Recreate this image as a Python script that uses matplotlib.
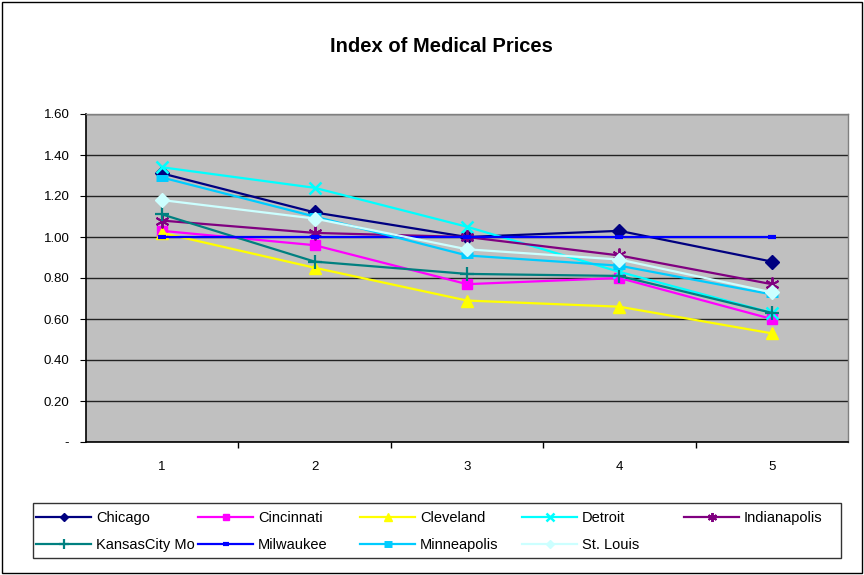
import matplotlib
matplotlib.use("Agg")
import matplotlib.pyplot as plt
from matplotlib.patches import Rectangle

plt.rcParams['font.family'] = ['Liberation Sans', 'DejaVu Sans']

periods = [1, 2, 3, 4, 5]
chicago = [1.31, 1.12, 1.00, 1.03, 0.88]
cincinnati = [1.03, 0.96, 0.77, 0.80, 0.60]
cleveland = [1.02, 0.85, 0.69, 0.66, 0.53]
detroit = [1.34, 1.24, 1.05, 0.83, 0.63]
indianapolis = [1.08, 1.02, 1.00, 0.91, 0.77]
kansas_city = [1.11, 0.88, 0.82, 0.81, 0.63]
milwaukee = [1.00, 1.00, 1.00, 1.00, 1.00]
minneapolis = [1.29, 1.10, 0.91, 0.86, 0.72]
st_louis = [1.18, 1.09, 0.94, 0.89, 0.73]

names = ["Chicago", "Cincinnati", "Cleveland", "Detroit", "Indianapolis",
         "KansasCity Mo", "Milwaukee", "Minneapolis", "St. Louis"]
series = [chicago, cincinnati, cleveland, detroit, indianapolis,
          kansas_city, milwaukee, minneapolis, st_louis]
colors = ["#000080", "#FF00FF", "#FFFF00", "#00FFFF", "#800080",
          "#008080", "#0000FF", "#00CCFF", "#CCFFFF"]
markers = ["D", "s", "^", "x", (6, 2, 0), "+", "_", "_", "D"]
msizes = [7, 7, 8, 9, 10, 10, 6, 9, 7]
mews = [1, 1, 1, 1.8, 1.4, 1.6, 3, 5, 1]

fig = plt.figure(figsize=(8.64, 5.75), dpi=100)
W, H = 864, 575
ax = fig.add_axes([86 / W, 1 - 442 / H, (848 - 86) / W, (442 - 114) / H])
ax.set_facecolor("#C0C0C0")

lines = []
for name, vals, c, m, ms, mw in zip(names, series, colors, markers, msizes, mews):
    ln, = ax.plot(periods, vals, color=c, marker=m, markersize=ms,
                  markeredgewidth=mw, markeredgecolor=c, markerfacecolor=c,
                  linewidth=1.6, label=name, zorder=3)
    lines.append(ln)

ax.set_xlim(0.5, 5.5)
ax.set_ylim(0, 1.6)
yt = [0, 0.2, 0.4, 0.6, 0.8, 1.0, 1.2, 1.4, 1.6]
ax.set_yticks(yt)
ax.set_yticklabels(["-"] + [f"{v:.2f}" for v in yt[1:]])
ax.set_xticks(periods)
ax.set_xticklabels([str(p) for p in periods])
ax.set_xticks([1.5, 2.5, 3.5, 4.5], minor=True)
ax.tick_params(axis='x', which='major', length=0, pad=14, labelsize=9.5)
ax.tick_params(axis='x', which='minor', length=4, direction='out', width=1)
ax.tick_params(axis='y', length=4, direction='out', labelsize=9.5, pad=8)
ax.yaxis.grid(True, color="#222222", linewidth=1)
ax.set_axisbelow(True)
for s in ["top", "right"]:
    ax.spines[s].set_color("#808080")
    ax.spines[s].set_linewidth(1)
for s in ["left", "bottom"]:
    ax.spines[s].set_color("#000000")
    ax.spines[s].set_linewidth(1.2)

fig.text(441 / W, 1 - 46 / H, "Index of Medical Prices", ha="center", va="center",
         fontsize=14.5, fontweight="bold")

# legend frame
fig.add_artist(Rectangle((33 / W, 1 - 558 / H), (841 - 33) / W, (558 - 503) / H,
                         transform=fig.transFigure, fill=False, edgecolor="#333333",
                         linewidth=1))
col_x = [40, 202, 364, 526, 688]
for ci in range(5):
    hs = [lines[ci]]
    if ci + 5 < len(lines):
        hs.append(lines[ci + 5])
    fig.legend(handles=hs, labels=[h.get_label() for h in hs],
               loc="upper left", bbox_to_anchor=(col_x[ci] / W - 0.008, 1 - 508 / H),
               frameon=False, fontsize=10.5, handlelength=3.8, handletextpad=0.3,
               labelspacing=0.9, borderpad=0.2, borderaxespad=0, markerscale=0.65)

fig.add_artist(Rectangle((2 / W, 2 / H), (W - 4) / W, (H - 4) / H,
                         transform=fig.transFigure, fill=False, edgecolor="black",
                         linewidth=1))

fig.savefig("out.png", dpi=100)
